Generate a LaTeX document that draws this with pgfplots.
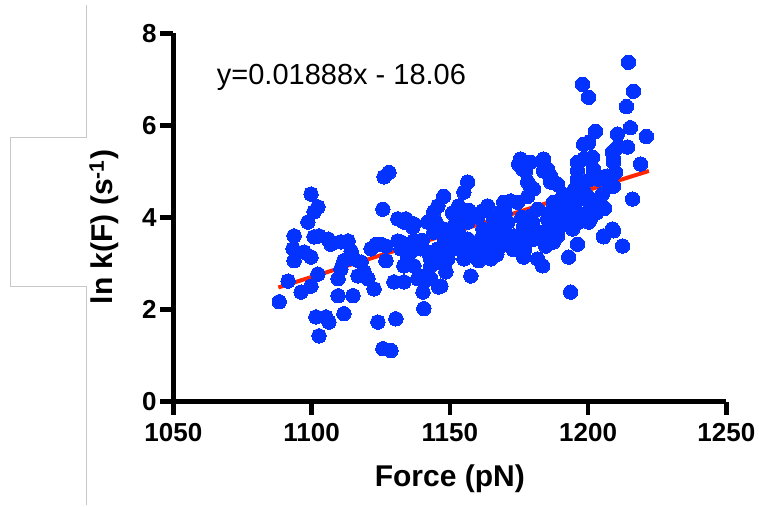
\documentclass[border=0pt]{standalone}
\usepackage{fontspec}
\setmainfont{Liberation Sans}
\usepackage{pgfplots}
\pgfplotsset{compat=1.18}
\definecolor{ptblue}{RGB}{4,51,255}
\definecolor{ptred}{RGB}{255,38,0}
\definecolor{artgray}{RGB}{200,200,200}

\pgfplotstableread{
x y
1088.3 2.17
1091.5 2.62
1093.7 3.06
1093.3 3.32
1093.7 3.60
1096.2 2.38
1099.8 2.51
1099.8 4.51
1102.3 4.23
1100.9 4.12
1098.7 3.90
1097.3 3.25
1099.8 3.14
1100.9 3.58
1102.7 3.60
1106.0 3.53
1107.0 3.42
1102.3 2.77
1101.6 1.84
1105.2 1.84
1106.3 1.73
1102.7 1.43
1109.6 2.30
1115.0 2.30
1111.7 1.91
1109.6 2.67
1110.6 2.88
1111.7 3.06
1110.6 3.47
1113.2 3.49
1114.3 3.27
1115.3 3.10
1117.9 3.03
1119.0 2.82
1116.8 2.73
1120.4 2.67
1122.6 2.45
1121.5 3.32
1123.3 3.42
1125.1 3.42
1126.9 3.38
1126.9 3.06
1125.8 4.18
1126.2 4.88
1128.0 4.98
1131.2 3.97
1133.4 3.90
1136.6 3.79
1129.8 2.60
1133.4 2.60
1124.0 1.73
1130.5 1.80
1125.8 1.15
1128.7 1.11
1131.2 3.49
1132.3 3.32
1134.8 3.10
1137.0 2.95
1133.4 2.95
1138.4 2.67
1140.6 2.60
1140.3 2.38
1140.6 2.02
1146.0 2.49
1148.6 2.82
1143.1 3.10
1145.7 3.32
1149.3 3.38
1152.9 3.32
1156.5 4.77
1155.1 4.55
1174.9 5.16
1177.4 5.01
1179.2 5.20
1183.9 5.20
1185.7 4.94
1187.5 4.77
1147.8 4.46
1145.7 4.25
1144.2 4.12
1153.2 4.25
1154.0 4.07
1163.7 4.25
1161.9 4.14
1169.5 4.33
1172.0 4.36
1174.5 4.33
1178.2 4.77
1180.3 4.62
1178.2 4.46
1187.5 4.33
1188.3 4.12
1185.4 3.97
1134.1 3.97
1137.0 3.86
1132.3 3.47
1134.8 3.38
1135.9 3.25
1144.2 3.68
1147.8 3.75
1151.4 3.81
1156.5 3.90
1160.1 4.01
1165.9 3.97
1168.4 4.12
1176.7 3.81
1179.2 4.03
1181.8 4.18
1139.5 3.32
1142.1 3.25
1152.9 3.47
1156.5 3.53
1161.2 3.53
1165.9 3.60
1169.5 3.68
1173.1 3.60
1175.6 3.47
1180.3 3.53
1183.9 3.60
1187.5 3.47
1143.1 2.95
1145.7 3.03
1149.3 3.10
1155.1 3.10
1158.7 3.16
1162.3 3.25
1165.9 3.32
1168.4 3.38
1139.5 2.73
1143.1 2.67
1146.8 2.51
1157.6 2.73
1160.5 3.06
1164.8 3.10
1176.7 3.14
1181.8 3.10
1183.6 2.95
1150.0 3.60
1153.0 3.70
1158.0 3.45
1162.0 3.75
1166.0 3.80
1170.0 3.50
1171.0 3.90
1173.0 3.30
1176.0 4.00
1178.0 3.70
1155.0 3.30
1160.0 3.30
1148.0 3.55
1145.0 3.90
1151.0 4.10
1157.0 4.15
1140.0 3.50
1137.0 3.50
1142.0 3.90
1164.0 3.50
1167.0 3.20
1170.0 4.10
1180.0 3.90
1177.0 3.30
1214.6 7.37
1198.0 6.89
1200.2 6.61
1216.4 6.74
1213.9 6.41
1202.7 5.87
1215.3 5.95
1221.1 5.76
1210.6 5.81
1211.0 5.55
1214.3 5.53
1209.9 5.48
1209.2 5.27
1198.4 5.59
1200.2 5.63
1219.0 5.16
1201.6 5.31
1202.0 5.05
1198.4 5.27
1196.2 5.01
1196.2 5.20
1208.8 5.42
1209.2 5.20
1209.9 4.98
1175.6 5.27
1176.4 5.05
1183.9 5.27
1185.4 5.05
1179.2 4.68
1189.0 4.72
1196.2 4.83
1207.0 4.90
1209.2 4.68
1216.1 4.40
1205.6 3.60
1209.2 3.71
1212.5 3.38
1196.2 3.42
1193.0 3.14
1193.7 2.38
1198.4 4.03
1200.9 3.97
1183.9 5.01
1186.5 4.90
1186.5 4.77
1196.2 4.77
1198.4 4.57
1200.9 4.83
1203.8 4.83
1205.6 4.88
1208.1 4.68
1205.2 4.51
1203.4 4.29
1190.1 4.18
1192.6 4.29
1194.8 4.40
1197.3 4.40
1199.8 4.46
1200.9 4.25
1187.5 3.97
1191.2 3.90
1193.7 4.07
1196.2 4.10
1196.6 3.90
1200.2 3.90
1182.9 3.68
1186.5 3.75
1190.1 3.81
1194.4 3.75
1182.9 3.53
1185.4 3.47
1187.5 3.68
1184.7 3.38
1208.8 3.75
1205.6 3.58
1186.0 4.10
1189.0 3.60
1191.0 4.50
1195.0 4.60
1203.0 4.10
1206.0 4.20
}\pointdata

\pgfplotstableread{
x y
1088 2.481
1222 5.011
}\fitdata

\begin{document}
\begin{tikzpicture}
\useasboundingbox (0pt,0pt) rectangle (759pt,506pt);
\draw[artgray, line width=1pt] (86.7pt,501pt) -- (86.7pt,368pt) -- (10.7pt,368pt) -- (10.7pt,219pt) -- (86.7pt,219pt) -- (86.7pt,1pt);
\begin{axis}[
  at={(173.3pt,104.3pt)}, anchor=south west,
  scale only axis, width=553pt, height=368.4pt,
  xmin=1050, xmax=1250, ymin=0, ymax=8,
  axis x line*=bottom, axis y line*=left,
  x axis line style={-, line width=4.5pt},
  y axis line style={-, line width=4.5pt},
  xtick={1050,1100,1150,1200,1250},
  ytick={0,2,4,6,8},
  minor tick num=0,
  tick align=outside,
  major tick length=13pt,
  tick style={line width=4.5pt, black},
  /pgf/number format/assume math mode=true,
  /pgf/number format/1000 sep={},
  ticklabel style={font=\fontsize{26}{26}\selectfont\bfseries},
  xticklabel style={inner sep=0pt, yshift=-8pt},
  yticklabel style={inner sep=0pt, xshift=-3.5pt},
  xlabel={Force (pN)},
  ylabel={ln k(F) (s\textsuperscript{-1})},
  xlabel style={font=\fontsize{30}{30}\selectfont\bfseries, at={(axis description cs:0.5,-0.2098)}, anchor=center},
  ylabel style={font=\fontsize{30}{30}\selectfont\bfseries, at={(axis description cs:-0.125,0.474)}, anchor=center},
  clip=false,
]
\addplot[ptred, line width=4pt] table {\fitdata};
\addplot[ptblue, only marks, mark=*, mark size=7.2pt, mark options={fill=ptblue, draw=ptblue, line width=0pt}] table {\pointdata};
\node[anchor=base west, font=\fontsize{29}{29}\selectfont, inner sep=0pt] at (axis cs:1065.7,6.88) {y=0.01888x - 18.06};
\end{axis}
\end{tikzpicture}
\end{document}
